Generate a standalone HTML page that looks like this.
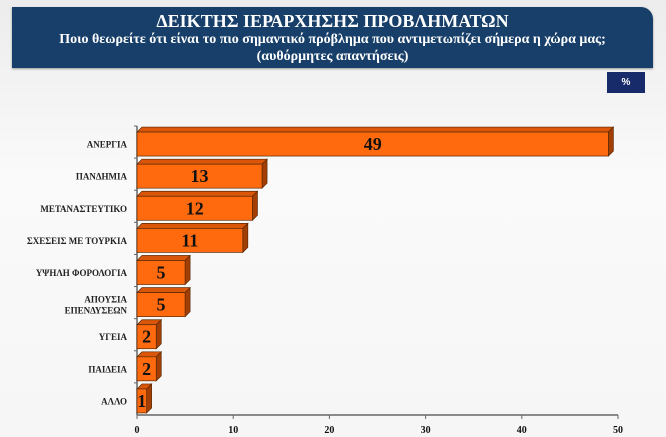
<!DOCTYPE html>
<html><head><meta charset="utf-8"><style>
body{margin:0;width:666px;height:437px;overflow:hidden;background:linear-gradient(#ececec,#fafafa 40%,#f6f6f6);font-family:"Liberation Serif",serif;}
#hdr{position:absolute;left:12px;top:7px;width:641px;height:61px;background:#173f69;border-top-right-radius:12px;color:#fff;text-align:center;font-weight:bold;box-shadow:0 1px 2px #999;}
#hdr .t{font-size:18px;line-height:20px;margin-top:4px}
#hdr .s{font-size:14px;line-height:17px}
#pct{position:absolute;left:607px;top:72px;width:38px;height:21px;background:#172a6a;color:#fff;font-size:10px;font-weight:bold;text-align:center;line-height:21px;font-family:"Liberation Sans",sans-serif}
svg{position:absolute;left:0;top:0}
</style></head><body>
<div id="hdr"><div class="t">ΔΕΙΚΤΗΣ ΙΕΡΑΡΧΗΣΗΣ ΠΡΟΒΛΗΜΑΤΩΝ</div><div class="s">Ποιο θεωρείτε ότι είναι το πιο σημαντικό πρόβλημα που αντιμετωπίζει σήμερα η χώρα μας;<br>(αυθόρμητες απαντήσεις)</div></div>
<div id="pct">%</div>
<svg id="ch" width="666" height="437"></svg>
<script>
const categories=[["ΑΝΕΡΓΙΑ"],["ΠΑΝΔΗΜΙΑ"],["ΜΕΤΑΝΑΣΤΕΥΤΙΚΟ"],["ΣΧΕΣΕΙΣ ΜΕ ΤΟΥΡΚΙΑ"],["ΥΨΗΛΗ ΦΟΡΟΛΟΓΙΑ"],["ΑΠΟΥΣΙΑ","ΕΠΕΝΔΥΣΕΩΝ"],["ΥΓΕΙΑ"],["ΠΑΙΔΕΙΑ"],["ΑΛΛΟ"]];
const values=[49,13,12,11,5,5,2,2,1];
const ticks=[0,10,20,30,40,50];
const svg=document.getElementById('ch');const NS='http://www.w3.org/2000/svg';
const x0=137,x1=618,yTop=126,yBot=415;
const xs=v=>x0+(v/50)*(x1-x0);
const band=(yBot-yTop)/categories.length;
function mk(t,a,p){const e=document.createElementNS(NS,t);for(const k in a)e.setAttribute(k,a[k]);(p||svg).appendChild(e);return e;}
const ax=mk('line',{x1:x0,y1:yTop,x2:x0,y2:yBot,stroke:'#666','stroke-width':1.5});

const bx=mk('line',{x1:x0,y1:yBot,x2:x1,y2:yBot,stroke:'#666','stroke-width':1.5});

ticks.forEach(t=>{mk('line',{x1:xs(t),y1:yBot,x2:xs(t),y2:yBot+4,stroke:'#666'});
const tx=mk('text',{x:xs(t),y:yBot+18,'text-anchor':'middle','font-size':10,'font-weight':'bold',fill:'#111'});tx.textContent=t;
});
const d=5,h=24;
values.forEach((v,i)=>{const cy=yTop+band*i+band/2+2;const y=cy-h/2;const xe=xs(v);
mk('line',{x1:x0-3,y1:yTop+band*i,x2:x0,y2:yTop+band*i,stroke:'#666'});
const g=mk('g',{});
mk('polygon',{points:`${x0},${y} ${x0+d},${y-d} ${xe+d},${y-d} ${xe},${y}`,fill:'#d9560a',stroke:'#5a2a05','stroke-width':0.7},g);
mk('polygon',{points:`${xe},${y} ${xe+d},${y-d} ${xe+d},${y+h-d} ${xe},${y+h}`,fill:'#a33e05',stroke:'#5a2a05','stroke-width':0.7},g);
mk('rect',{x:x0,y:y,width:xe-x0,height:h,fill:'#ff6a0e',stroke:'#5a2a05','stroke-width':0.7},g);
const vt=mk('text',{x:(x0+xe)/2,y:cy+6,'text-anchor':'middle','font-size':18,'font-weight':'bold',fill:'#111'});vt.textContent=values[i];

const lines=categories[i];lines.forEach((s,j)=>{const lt=mk('text',{x:127,y:cy+3.5+(j-(lines.length-1)/2)*11,'text-anchor':'end','font-size':9,'font-weight':'bold',fill:'#222'});lt.textContent=s;
});
});
</script>
</body></html>
